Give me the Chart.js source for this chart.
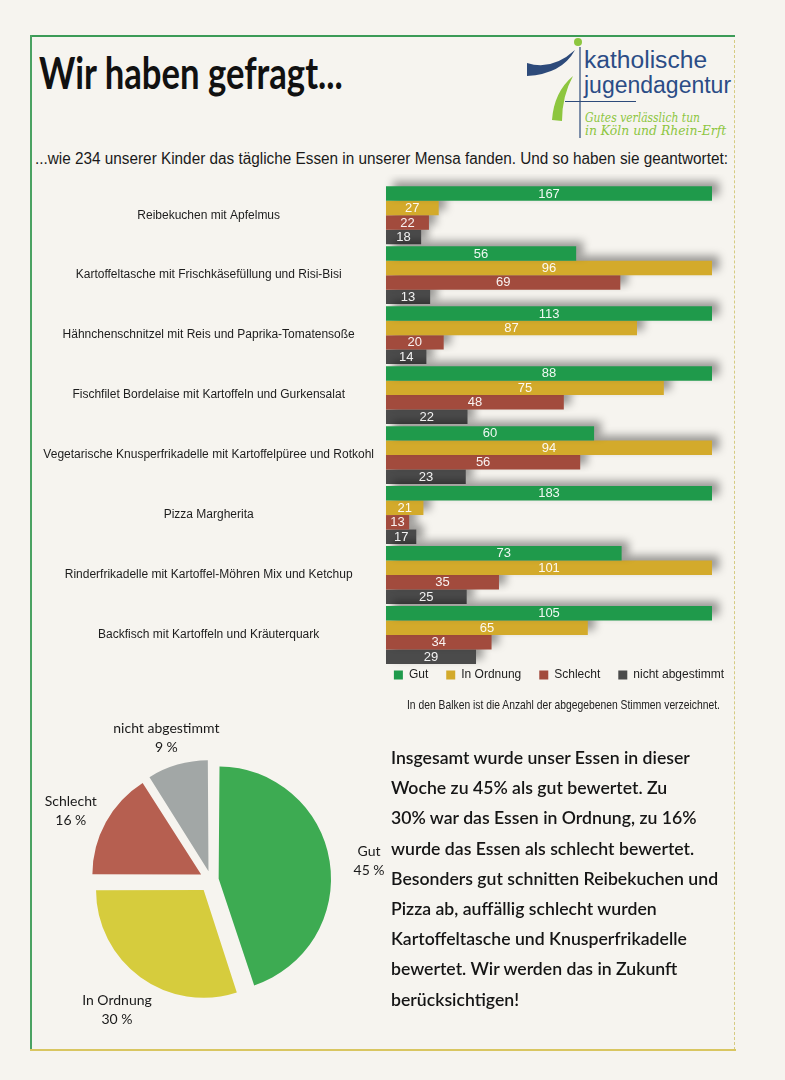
<!DOCTYPE html>
<html lang="de">
<head>
<meta charset="utf-8">
<title>Wir haben gefragt...</title>
<script src="https://cdn.jsdelivr.net/npm/chart.js@4.4.1/dist/chart.umd.min.js"></script>
<style>
  html, body { margin: 0; padding: 0; }
  body {
    width: 785px; height: 1080px; position: relative; overflow: hidden;
    background: #f6f4ef; color: #1c1c1c;
    font-family: "Liberation Sans", Arial, sans-serif;
  }
  .abs { position: absolute; }
  .fit { white-space: nowrap; transform-origin: 0 0; display: inline-block; }
  #title { left: 39px; top: 46px; font: bold 44px "Lato", sans-serif; color: #111; }
  #subtitle { left: 35px; top: 150px; font: 16px "Liberation Sans", sans-serif; color: #1a1a1a; }
  #note { left: 407px; top: 697px; font: 13px "Liberation Sans", sans-serif; color: #222; }
  #text { left: 391px; top: 743px; font: 600 17px "Lato", sans-serif; line-height: 30.2px; color: #151515; }
  .logo1 { left: 584px; font: 23px "Liberation Sans", Arial, sans-serif; color: #2b4c86; }
  .logo2 { left: 585px; font: italic 13px "DejaVu Serif", serif; color: #8dc63f; }
</style>
</head>
<body>
<!-- frame -->
<div class="abs" style="left:30px;top:35px;width:705px;height:2px;background:#3c9b57"></div>
<div class="abs" style="left:30px;top:35px;width:2px;height:1016px;background:#4aa262"></div>
<div class="abs" style="left:734px;top:40px;width:0;height:1010px;border-left:1px dashed #d6cb82"></div>
<div class="abs" style="left:30px;top:1049px;width:706px;height:2px;background:#d9c661"></div>

<div id="title" class="abs fit" data-w="304">Wir haben gefragt...</div>

<!-- logo -->
<svg class="abs" style="left:0;top:0" width="785" height="150">
  <circle cx="578" cy="42" r="4" fill="#8dc63f"/>
  <path d="M527 63 Q552 71 575 50 Q562 74 527 76 Z" fill="#2d4a7a"/>
  <path d="M573 76 Q554 92 552 120 L562 121 Q562 96 573 76 Z" fill="#8dc63f"/>
  <line x1="580" y1="47" x2="580" y2="138" stroke="#2d4a7a" stroke-width="1.2"/>
  <line x1="565" y1="101.5" x2="636" y2="101.5" stroke="#2d4a7a" stroke-width="1.2"/>
</svg>
<div class="abs logo1 fit" data-w="123" style="top:47px">katholische</div>
<div class="abs logo1 fit" data-w="147" style="top:72px">jugendagentur</div>
<div class="abs logo2 fit" data-w="115" style="top:110px">Gutes verlässlich tun</div>
<div class="abs logo2 fit" data-w="141" style="top:123px">in Köln und Rhein-Erft</div>

<div id="subtitle" class="abs fit" data-w="693">...wie 234 unserer Kinder das tägliche Essen in unserer Mensa fanden. Und so haben sie geantwortet:</div>

<div class="abs" style="left:32px;top:174px;width:710px;height:531px"><canvas id="bars"></canvas></div>

<div id="note" class="abs fit" data-w="313">In den Balken ist die Anzahl der abgegebenen Stimmen verzeichnet.</div>

<div class="abs" style="left:21px;top:710px;width:380px;height:340px"><canvas id="pie"></canvas></div>

<div id="text" class="abs fit" data-w="327">Insgesamt wurde unser Essen in dieser<br>Woche zu 45% als gut bewertet. Zu<br>30% war das Essen in Ordnung, zu 16%<br>wurde das Essen als schlecht bewertet.<br>Besonders gut schnitten Reibekuchen und<br>Pizza ab, auffällig schlecht wurden<br>Kartoffeltasche und Knusperfrikadelle<br>bewertet. Wir werden das in Zukunft<br>berücksichtigen!</div>

<script>
const categories = [
  "Reibekuchen mit Apfelmus",
  "Kartoffeltasche mit Frischkäsefüllung und Risi-Bisi",
  "Hähnchenschnitzel mit Reis und Paprika-Tomatensoße",
  "Fischfilet Bordelaise mit Kartoffeln und Gurkensalat",
  "Vegetarische Knusperfrikadelle mit Kartoffelpüree und Rotkohl",
  "Pizza Margherita",
  "Rinderfrikadelle mit Kartoffel-Möhren Mix und Ketchup",
  "Backfisch mit Kartoffeln und Kräuterquark"
];
const seriesNames = ["Gut", "In Ordnung", "Schlecht", "nicht abgestimmt"];
const gut = [167, 56, 113, 88, 60, 183, 73, 105];
const inOrdnung = [27, 96, 87, 75, 94, 21, 101, 65];
const schlecht = [22, 69, 20, 48, 56, 13, 35, 34];
const nichtAbgestimmt = [18, 13, 14, 22, 23, 17, 25, 29];

const pieLabels = ["Gut", "In Ordnung", "Schlecht", "nicht abgestimmt"];
const pieValues = [45, 30, 16, 9];

const barColors = ["#1f9a4b", "#d3aa2b", "#a24b3d", "#4b4b4b"];
const pieColors = ["#3dab52", "#d6cc3d", "#b65f50", "#a2a7a6"];

// shrink text blocks to the width they have in the scan
document.querySelectorAll(".fit").forEach(el => {
  const s = Number(el.dataset.w) / el.offsetWidth;
  el.style.transform = `scaleX(${s})`;
});

// in the original every meal is scaled to its own largest answer
const counts = [gut, inOrdnung, schlecht, nichtAbgestimmt];
const groupMax = categories.map((c, i) => Math.max(...counts.map(s => s[i])));
const share = s => s.map((v, i) => v / groupMax[i] * 100);

const barLook = {
  id: "barLook",
  afterLayout(chart) {
    // pull the legend up close to the last bar group
    const lg = chart.legend;
    lg.top -= 14;
    lg.bottom -= 14;
  },
  beforeDatasetsDraw(chart) {
    const c = chart.ctx;
    c.save();
    c.shadowColor = "rgba(0,0,0,0.38)";
    c.shadowBlur = 9;
    c.shadowOffsetX = 7;
    c.shadowOffsetY = -5;
  },
  afterDatasetsDraw(chart) {
    const c = chart.ctx;
    c.restore();
    c.save();
    c.font = "13px 'Liberation Sans', Arial, sans-serif";
    c.textAlign = "center";
    c.textBaseline = "middle";
    c.fillStyle = "rgba(255,255,255,0.93)";
    chart.data.datasets.forEach((ds, d) => {
      chart.getDatasetMeta(d).data.forEach((bar, i) => {
        c.fillText(String(counts[d][i]), (bar.x + bar.base) / 2, bar.y + 0.5);
      });
    });
    c.restore();
  }
};

new Chart(document.getElementById("bars"), {
  type: "bar",
  data: {
    labels: categories,
    datasets: counts.map((s, d) => ({
      label: seriesNames[d],
      data: share(s),
      backgroundColor: barColors[d],
      categoryPercentage: 0.965,
      barPercentage: 1.0,
      clip: false
    }))
  },
  options: {
    indexAxis: "y",
    responsive: true,
    maintainAspectRatio: false,
    animation: false,
    layout: { padding: { top: 9, right: 0, left: 0, bottom: 0 } },
    scales: {
      x: { display: false, min: 0, max: 109.2 },
      y: {
        grid: { display: false },
        border: { display: false },
        ticks: {
          crossAlign: "center",
          padding: 4,
          color: "#1d1d1d",
          font: { family: "'Liberation Sans', sans-serif", size: 12 }
        },
        afterFit(scale) { scale.width = 354; }
      }
    },
    plugins: {
      legend: {
        position: "bottom",
        align: "end",
        labels: {
          boxWidth: 9, boxHeight: 9, padding: 18,
          color: "#1d1d1d",
          font: { family: "'Liberation Sans', Arial, sans-serif", size: 12 }
        }
      },
      tooltip: { enabled: false }
    }
  },
  plugins: [barLook]
});

const pieText = {
  id: "pieText",
  afterDraw(chart) {
    const c = chart.ctx;
    c.save();
    c.font = "14px Lato, sans-serif";
    c.fillStyle = "#1a1a1a";
    c.textAlign = "center";
    c.textBaseline = "middle";
    chart.getDatasetMeta(0).data.forEach((arc, i) => {
      const mid = (arc.startAngle + arc.endAngle) / 2;
      const x = arc.x + Math.cos(mid) * 160;
      const y = arc.y + Math.sin(mid) * 154 + 5;
      c.fillText(pieLabels[i], x, y - 9);
      c.fillText(pieValues[i] + " %", x, y + 10);
    });
    c.restore();
  }
};

new Chart(document.getElementById("pie"), {
  type: "pie",
  data: {
    labels: pieLabels,
    datasets: [{
      data: pieValues,
      backgroundColor: pieColors,
      borderWidth: 0,
      // Chart.js moves a slice by about a quarter of this (more for narrow slices)
      offset: [31, 50, 45, 36],
      radius: 107
    }]
  },
  options: {
    responsive: true,
    maintainAspectRatio: false,
    animation: false,
    plugins: { legend: { display: false }, tooltip: { enabled: false } }
  },
  plugins: [pieText]
});
</script>
</body>
</html>
